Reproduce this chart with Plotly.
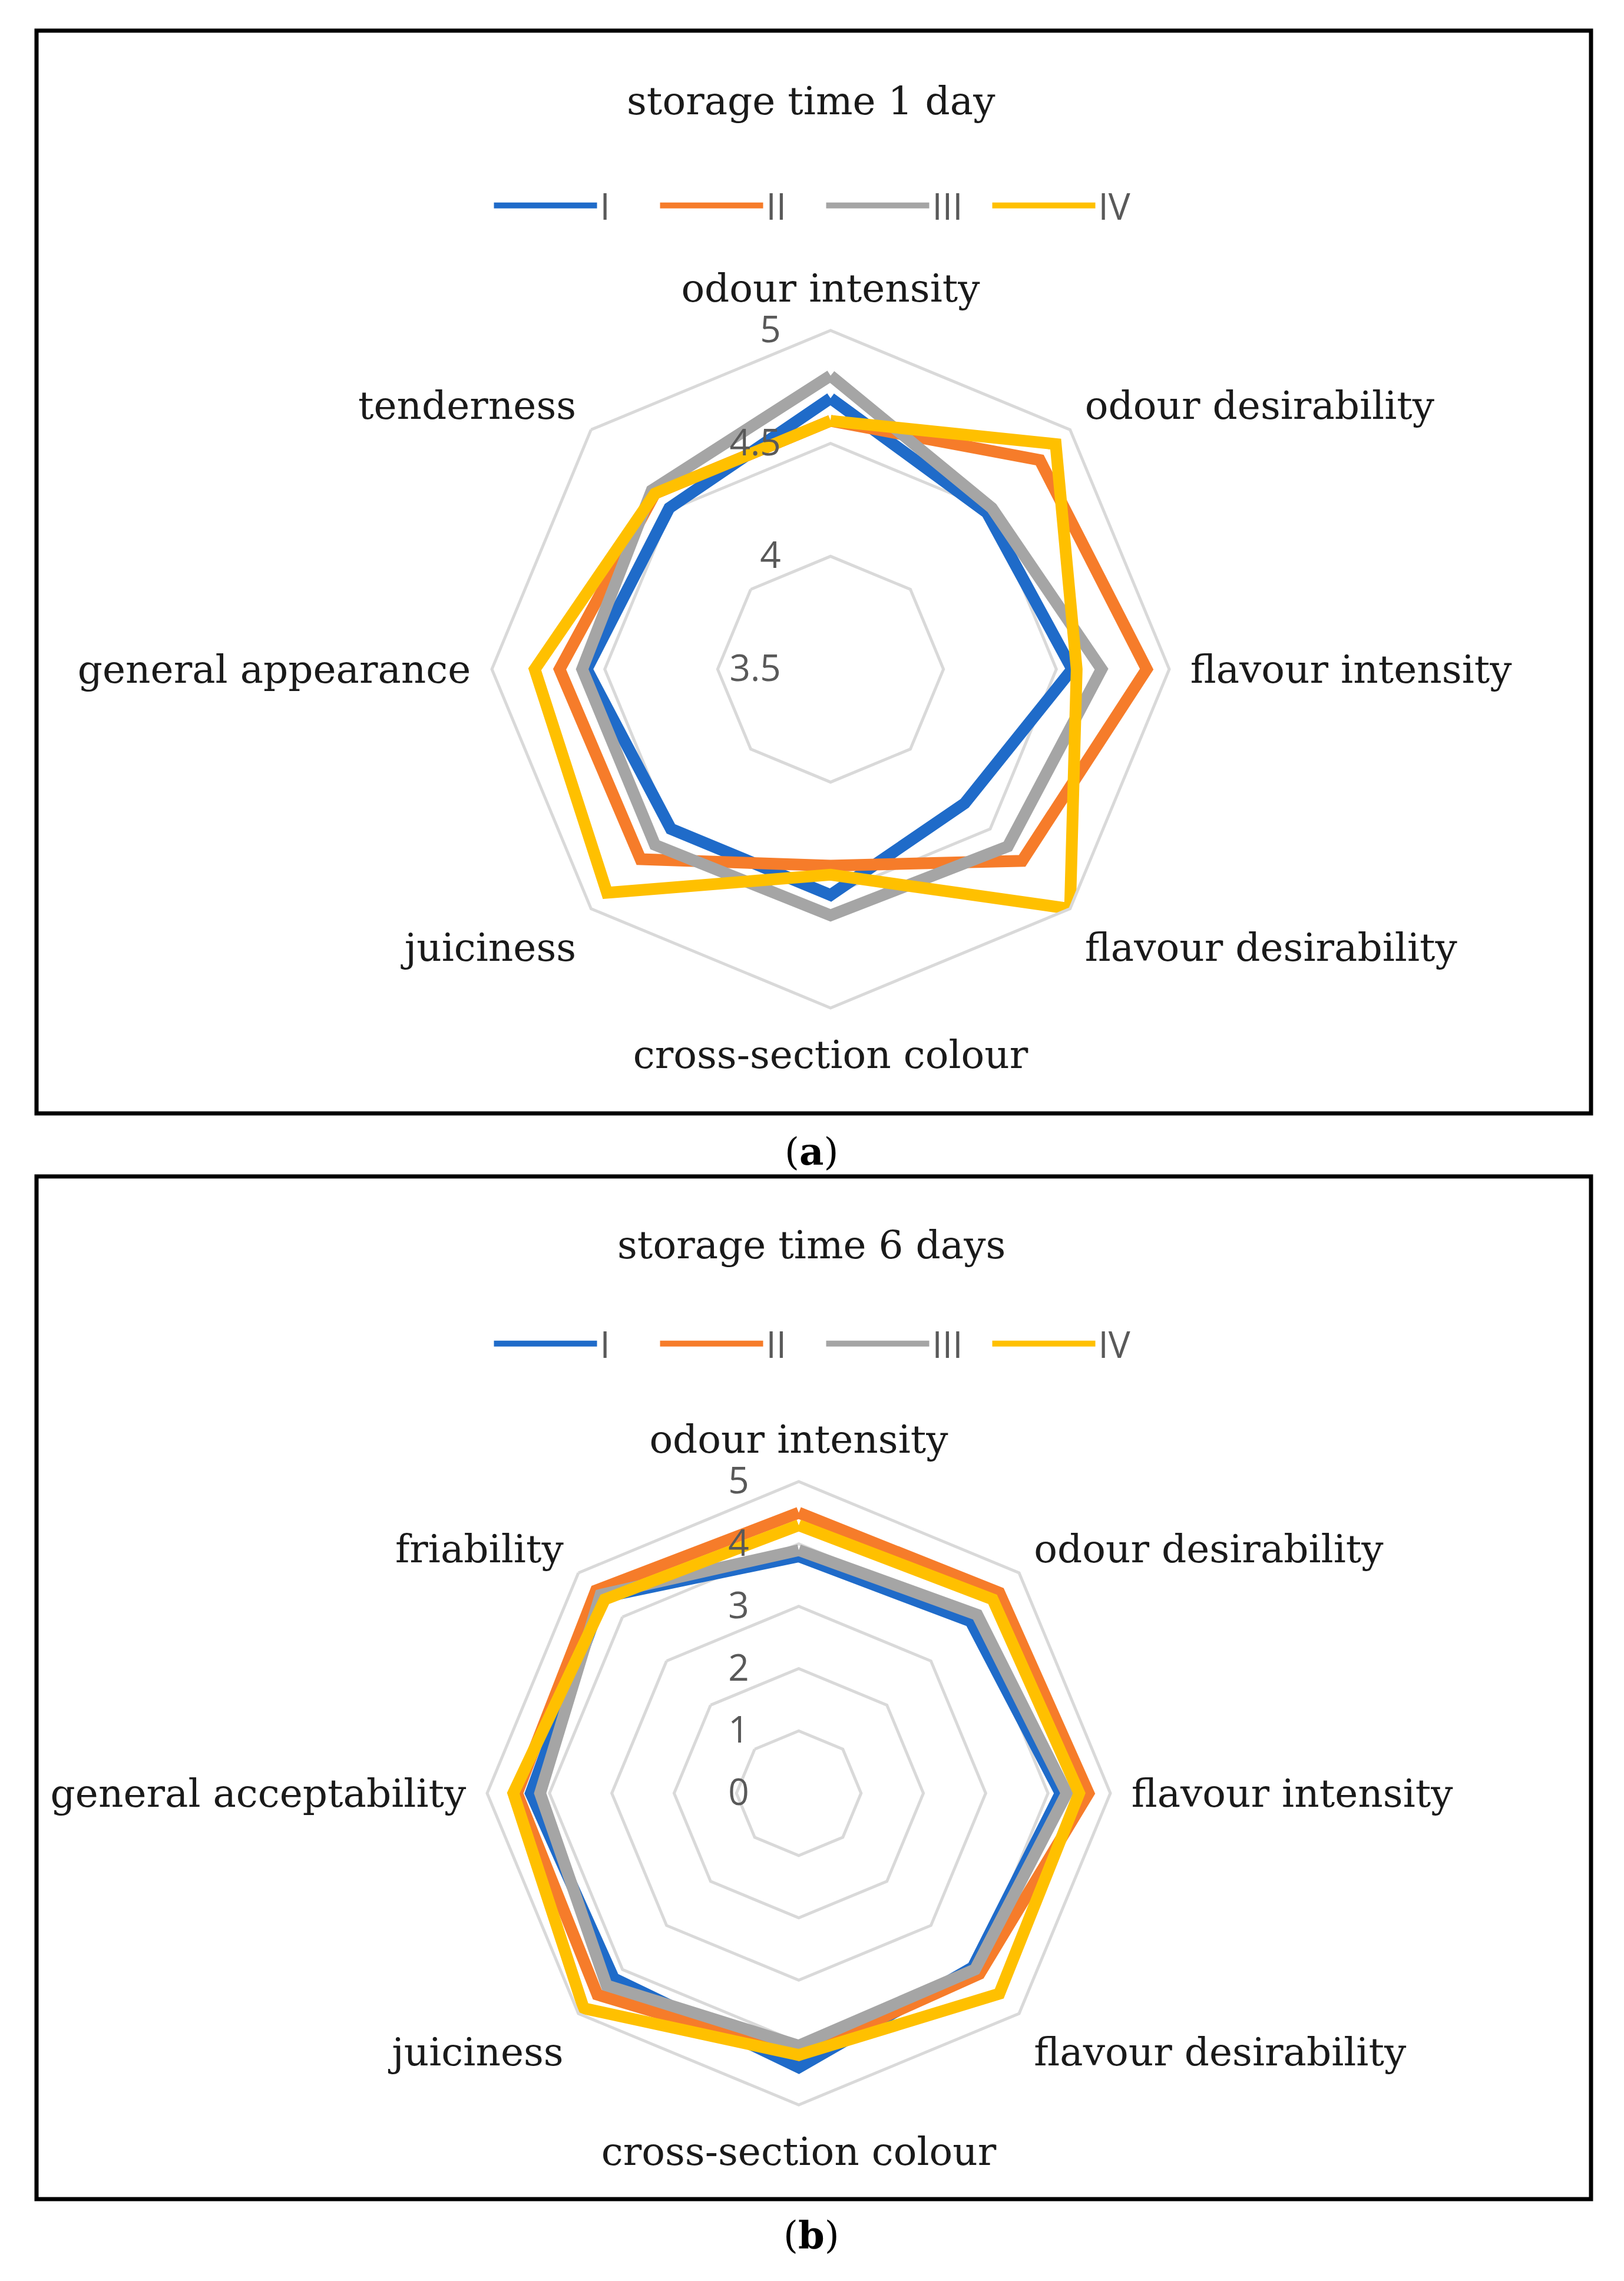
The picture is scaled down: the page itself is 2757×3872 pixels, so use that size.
import plotly.graph_objects as go

# ---------------- data ----------------
cats_a = ["odour intensity", "odour desirability", "flavour intensity", "flavour desirability",
          "cross-section colour", "juiciness", "general appearance", "tenderness"]
cats_b = ["odour intensity", "odour desirability", "flavour intensity", "flavour desirability",
          "cross-section colour", "juiciness", "general acceptability", "friability"]

series_names = ["I", "II", "III", "IV"]

day1_I = [4.70, 4.48, 4.57, 4.34, 4.50, 4.50, 4.58, 4.51]
day1_II = [4.60, 4.81, 4.90, 4.70, 4.37, 4.69, 4.70, 4.60]
day1_III = [4.80, 4.51, 4.70, 4.61, 4.59, 4.60, 4.60, 4.62]
day1_IV = [4.60, 4.91, 4.59, 5.00, 4.41, 4.90, 4.81, 4.60]

day6_I = [3.80, 3.90, 4.20, 3.95, 4.40, 4.20, 4.30, 4.45]
day6_II = [4.50, 4.55, 4.65, 4.10, 4.20, 4.57, 4.52, 4.60]
day6_III = [3.90, 4.05, 4.30, 4.00, 4.05, 4.36, 4.15, 4.50]
day6_IV = [4.30, 4.40, 4.50, 4.55, 4.20, 4.88, 4.58, 4.40]

ticks_a = [3.5, 4, 4.5, 5]
ticks_b = [0, 1, 2, 3, 4, 5]

colors = ["#1F6BC9", "#F67C2A", "#A5A5A5", "#FFC000"]

W, H = 2757, 3872
SERIF = "DejaVu Serif"
SANS = "Open Sans"

fig = go.Figure()

def add_set(values, cats, subplot, legend):
    for name, vals, col in zip(series_names, values, colors):
        fig.add_trace(go.Scatterpolar(
            r=vals + vals[:1], theta=cats + cats[:1], mode="lines",
            name=name, line=dict(color=col, width=20),
            subplot=subplot, legend=legend, showlegend=True,
            hoverinfo="skip"))

add_set([day1_I, day1_II, day1_III, day1_IV], cats_a, "polar", "legend")
add_set([day6_I, day6_II, day6_III, day6_IV], cats_b, "polar2", "legend2")

def dom(cx, cy, R):
    return dict(x=[(cx - R) / W, (cx + R) / W], y=[(H - cy - R) / H, (H - cy + R) / H])

def polar_cfg(cx, cy, R, rng, ticks):
    return dict(
        domain=dom(cx, cy, R),
        gridshape="linear",
        bgcolor="white",
        radialaxis=dict(range=rng, tickvals=ticks, ticktext=[("%g" % t) for t in ticks],
                        showline=False, showgrid=True, gridcolor="#D9D9D9", gridwidth=5,
                        ticks="outside", ticklen=62, tickcolor="rgba(0,0,0,0)",
                        angle=90, tickangle=90, side="counterclockwise",
                        tickfont=dict(family=SANS, size=62, color="#595959")),
        angularaxis=dict(direction="clockwise", rotation=90, showgrid=False,
                         showline=True, linecolor="#D9D9D9", linewidth=5,
                         ticks="outside", ticklen=20, tickcolor="rgba(0,0,0,0)",
                         tickfont=dict(family=SERIF, size=66, color="#1a1a1a")),
    )

legend_common = dict(orientation="h", xanchor="center", yanchor="middle",
                     font=dict(family=SANS, size=62, color="#595959"), itemwidth=175,
                     entrywidth=92, bgcolor="rgba(0,0,0,0)")

fig.update_layout(
    width=W, height=H,
    margin=dict(l=0, r=0, t=0, b=0),
    paper_bgcolor="white", plot_bgcolor="white",
    polar=polar_cfg(1402, 1128, 575, [3.5, 5], ticks_a),
    polar2=polar_cfg(1348, 3036, 529, [0, 5], ticks_b),
    legend=dict(x=0.504, y=1 - 341 / H, **legend_common),
    legend2=dict(x=0.504, y=1 - 2273 / H, **legend_common),
    shapes=[
        dict(type="rect", xref="paper", yref="paper", x0=54 / W, x1=2693 / W,
             y0=1 - 1882 / H, y1=1 - 44 / H, line=dict(color="black", width=7)),
        dict(type="rect", xref="paper", yref="paper", x0=54 / W, x1=2693 / W,
             y0=1 - 3725 / H, y1=1 - 1989 / H, line=dict(color="black", width=7)),
    ],
    annotations=[
        dict(text="storage time 1 day", x=1369 / W, y=1 - 163 / H, xref="paper", yref="paper",
             xanchor="center", yanchor="middle",
             showarrow=False, font=dict(family=SERIF, size=66, color="#1a1a1a")),
        dict(text="storage time 6 days", x=1369 / W, y=1 - 2105 / H, xref="paper", yref="paper",
             xanchor="center", yanchor="middle",
             showarrow=False, font=dict(family=SERIF, size=66, color="#1a1a1a")),
        dict(text="(<b>a</b>)", x=1369 / W, y=1 - 1947 / H, xref="paper", yref="paper",
             xanchor="center", yanchor="middle",
             showarrow=False, font=dict(family=SERIF, size=64, color="black")),
        dict(text="(<b>b</b>)", x=1369 / W, y=1 - 3785 / H, xref="paper", yref="paper",
             xanchor="center", yanchor="middle",
             showarrow=False, font=dict(family=SERIF, size=64, color="black")),
    ],
)

fig.write_html("out.html")
